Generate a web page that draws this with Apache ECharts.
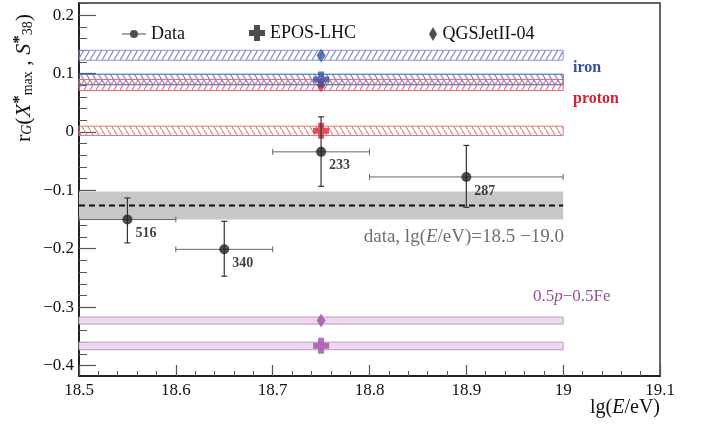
<!DOCTYPE html>
<html>
<head>
<meta charset="utf-8">
<script src="https://cdn.jsdelivr.net/npm/echarts@6/dist/echarts.min.js"></script>
<style>html,body{margin:0;padding:0;background:#fff}#c{width:702px;height:426px}</style>
</head>
<body>
<div id="c"></div>
<script>
// ---- data ----
const dataX = [18.55, 18.65, 18.75, 18.9];
const dataY = [-0.150, -0.201, -0.034, -0.077];
const dataXLow = [18.5, 18.6, 18.7, 18.8];
const dataXHigh = [18.6, 18.7, 18.8, 19.0];
const dataYLow = [-0.190, -0.247, -0.093, -0.129];
const dataYHigh = [-0.113, -0.153, 0.026, -0.023];
const dataCounts = ['516', '340', '233', '287'];

const compositions = ['iron', 'proton', 'mixed'];
const modelX = 18.75;
const eposValues = [0.090, 0.002, -0.366];
const eposLow = [0.081, -0.006, -0.373];
const eposHigh = [0.099, 0.010, -0.360];
const qgsValues = [0.131, 0.080, -0.323];
const qgsLow = [0.123, 0.071, -0.329];
const qgsHigh = [0.140, 0.090, -0.317];
const bandStart = 18.5, bandEnd = 19.0;

const dataMean = -0.126, dataMeanLow = -0.150, dataMeanHigh = -0.102;

const xTicks = [18.5, 18.6, 18.7, 18.8, 18.9, 19.0, 19.1];
const yMajorTicks = [-0.4, -0.3, -0.2, -0.1, 0, 0.1, 0.2];

// ---- styles ----
const compColor = { iron: '#3a52a3', proton: '#d9283a', mixed: '#a24fa8' };
function hatch(color, dir) {
  const w = 6, h = 10;
  const c = document.createElement('canvas');
  c.width = w; c.height = h;
  const g = c.getContext('2d');
  g.strokeStyle = color; g.lineWidth = 1.1;
  g.beginPath();
  if (dir > 0) { g.moveTo(0, h); g.lineTo(w, 0); }
  else { g.moveTo(0, 0); g.lineTo(w, h); }
  g.stroke();
  return { image: c, repeat: 'repeat' };
}
const bandStyle = {
  'iron-qgs': { fill: hatch('#6f82c8', 1), stroke: '#8496d4' },
  'iron-epos': { fill: hatch('#6f82c8', -1), stroke: '#3f58aa' },
  'proton-qgs': { fill: hatch('#dc6a72', 1), stroke: '#dc6a72' },
  'proton-epos': { fill: hatch('#e07a7c', -1), stroke: '#e07a7c' },
  'mixed-qgs': { fill: '#ecd9ec', stroke: '#c496c4' },
  'mixed-epos': { fill: '#ecd9ec', stroke: '#c496c4' }
};
const crossPath = 'path://M5,0H11V5H16V11H11V16H5V11H0V5H5Z';
const diamondPath = 'path://M4,0L8,7L4,14L0,7Z';
const dataIcon = 'path://M0,6.4H24V7.6H0Z M12,3A4,4,0,1,1,11.99,3Z';
const serif = "'Liberation Serif','DejaVu Serif',serif";

// ---- series ----
function bandRender(params, api) {
  const p1 = api.coord([api.value(0), api.value(3)]);
  const p2 = api.coord([api.value(1), api.value(2)]);
  const st = bandStyle[params.seriesName];
  return {
    type: 'rect',
    shape: { x: p1[0], y: p1[1], width: p2[0] - p1[0], height: p2[1] - p1[1] },
    style: { fill: st.fill, stroke: st.stroke, lineWidth: 1 }
  };
}
const series = [];
series.push({
  type: 'custom', name: 'databand', silent: true, z: 1,
  renderItem: function (params, api) {
    const p1 = api.coord([api.value(0), api.value(3)]);
    const p2 = api.coord([api.value(1), api.value(2)]);
    return { type: 'rect', shape: { x: p1[0], y: p1[1], width: p2[0] - p1[0], height: p2[1] - p1[1] }, style: { fill: '#c7c7c7' } };
  },
  data: [[bandStart, bandEnd, dataMeanLow, dataMeanHigh]]
});
series.push({
  type: 'line', name: 'datamean', silent: true, z: 2, symbol: 'none',
  lineStyle: { color: '#111', width: 2, type: [6, 4] },
  data: [[bandStart, dataMean], [bandEnd, dataMean]]
});
compositions.forEach(function (comp, i) {
  series.push({ type: 'custom', name: comp + '-qgs', silent: true, z: 2, renderItem: bandRender,
    data: [[bandStart, bandEnd, qgsLow[i], qgsHigh[i]]] });
  series.push({ type: 'custom', name: comp + '-epos', silent: true, z: 2, renderItem: bandRender,
    data: [[bandStart, bandEnd, eposLow[i], eposHigh[i]]] });
});
series.push({
  type: 'scatter', name: 'QGSJetII-04', z: 5, symbol: diamondPath, symbolSize: [9, 14],
  data: compositions.map(function (c, i) { return { value: [modelX, qgsValues[i]], itemStyle: { color: compColor[c] } }; })
});
series.push({
  type: 'scatter', name: 'EPOS-LHC', z: 6, symbol: crossPath, symbolSize: 16,
  data: compositions.map(function (c, i) { return { value: [modelX, eposValues[i]], itemStyle: { color: compColor[c] } }; })
});
series.push({
  type: 'custom', name: 'errors', silent: true, z: 7,
  renderItem: function (params, api) {
    const c = api.coord([api.value(0), api.value(1)]);
    const xl = api.coord([api.value(2), api.value(1)])[0];
    const xh = api.coord([api.value(3), api.value(1)])[0];
    const yl = api.coord([api.value(0), api.value(4)])[1];
    const yh = api.coord([api.value(0), api.value(5)])[1];
    const cap = 3;
    const hs = { stroke: '#666', lineWidth: 1 };
    const vs = { stroke: '#333', lineWidth: 1.2 };
    return { type: 'group', children: [
      { type: 'line', shape: { x1: xl, y1: c[1], x2: xh, y2: c[1] }, style: hs },
      { type: 'line', shape: { x1: xl, y1: c[1] - cap, x2: xl, y2: c[1] + cap }, style: hs },
      { type: 'line', shape: { x1: xh, y1: c[1] - cap, x2: xh, y2: c[1] + cap }, style: hs },
      { type: 'line', shape: { x1: c[0], y1: yl, x2: c[0], y2: yh }, style: vs },
      { type: 'line', shape: { x1: c[0] - cap, y1: yl, x2: c[0] + cap, y2: yl }, style: vs },
      { type: 'line', shape: { x1: c[0] - cap, y1: yh, x2: c[0] + cap, y2: yh }, style: vs }
    ] };
  },
  data: dataX.map(function (x, i) { return [x, dataY[i], dataXLow[i], dataXHigh[i], dataYLow[i], dataYHigh[i]]; })
});
series.push({
  type: 'scatter', name: 'Data', z: 8, symbol: 'circle', symbolSize: 10,
  itemStyle: { color: '#222' },
  label: { show: true, position: [13, 12], fontFamily: serif, fontWeight: 'bold', fontSize: 14, color: '#111',
    formatter: function (p) { return dataCounts[p.dataIndex]; } },
  data: dataX.map(function (x, i) { return [x, dataY[i]]; })
});

function fmtY(v) {
  const r = Math.round(v * 10) / 10;
  if (r === 0) return '0';
  return (r < 0 ? '\u2212' : '') + Math.abs(r).toFixed(1);
}
const yMinorTicks = [];
for (let k = -20; k <= 11; k++) { const v = Math.round(k * 2) / 100; if (yMajorTicks.indexOf(v) < 0) yMinorTicks.push(v); }

const legendText = { fontFamily: serif, fontSize: 18, color: '#111' };
const option = {
  animation: false,
  backgroundColor: '#fff',
  grid: { left: 79, right: 42, top: 3, bottom: 50, show: true, borderColor: '#333', borderWidth: 1.5 },
  legend: [
    { left: 117, top: 20, itemWidth: 24, itemHeight: 14, itemGap: 4, textStyle: legendText,
      data: [{ name: 'Data', icon: dataIcon, itemStyle: { color: '#222' } }] },
    { left: 244, top: 19, itemWidth: 16, itemHeight: 16, textStyle: legendText,
      data: [{ name: 'EPOS-LHC', icon: crossPath, itemStyle: { color: '#222' } }] },
    { left: 424, top: 20, itemWidth: 9, itemHeight: 14, textStyle: legendText,
      data: [{ name: 'QGSJetII-04', icon: diamondPath, itemStyle: { color: '#222' } }] }
  ],
  xAxis: {
    type: 'value', min: 18.5, max: 19.1, interval: 0.1,
    axisLine: { show: true, onZero: false, lineStyle: { color: '#222', width: 2 } },
    axisTick: { inside: true, length: 11, lineStyle: { color: '#555', width: 1.2 } },
    minorTick: { show: true, splitNumber: 5, length: 5, lineStyle: { color: '#555', width: 1 } },
    splitLine: { show: false },
    axisLabel: { margin: 6, fontFamily: serif, fontSize: 17, color: '#111',
      formatter: function (v) { return String(+v.toFixed(1)); } }
  },
  yAxis: [
    {
      type: 'value', min: -0.418, max: 0.221,
      axisLine: { show: true, onZero: false, lineStyle: { color: '#222', width: 2 } },
      axisTick: { inside: true, length: 17, customValues: yMajorTicks, lineStyle: { color: '#555', width: 1.2 } },
      splitLine: { show: false },
      axisLabel: { margin: 5, fontFamily: serif, fontSize: 17, color: '#111', customValues: yMajorTicks, formatter: fmtY }
    },
    {
      type: 'value', min: -0.418, max: 0.221, position: 'left',
      axisLine: { show: false },
      axisTick: { show: true, inside: true, length: 8, customValues: yMinorTicks, lineStyle: { color: '#555', width: 1 } },
      axisLabel: { show: false },
      splitLine: { show: false }
    }
  ],
  series: series,
  graphic: [
    { type: 'text', x: 573, y: 68, style: { text: 'iron', fontFamily: serif, fontSize: 16, fontWeight: 'bold', fill: '#3a4f9a', textVerticalAlign: 'middle' } },
    { type: 'text', x: 573, y: 99, style: { text: 'proton', fontFamily: serif, fontSize: 16, fontWeight: 'bold', fill: '#cf2436', textVerticalAlign: 'middle' } },
    { type: 'text', x: 533, y: 297, style: { text: '{a|0.5}{i|p}{a|\u22120.5Fe}', fontFamily: serif, fontSize: 17, fill: '#94509a', textVerticalAlign: 'middle',
      rich: { a: { fontFamily: serif, fontSize: 17, fill: '#94509a' }, i: { fontFamily: serif, fontSize: 17, fontStyle: 'italic', fill: '#94509a' } } } },
    { type: 'text', x: 564, y: 237, style: { text: '{a|data, lg(}{i|E}{a|/eV)=18.5 \u221219.0}', textAlign: 'right', textVerticalAlign: 'middle',
      rich: { a: { fontFamily: serif, fontSize: 19, fill: '#6e6e6e' }, i: { fontFamily: serif, fontSize: 19, fontStyle: 'italic', fill: '#6e6e6e' } } } },
    { type: 'text', x: 660, y: 408, style: { text: '{a|lg(}{i|E}{a|/eV)}', textAlign: 'right', textVerticalAlign: 'middle',
      rich: { a: { fontFamily: serif, fontSize: 20, fill: '#111' }, i: { fontFamily: serif, fontSize: 20, fontStyle: 'italic', fill: '#111' } } } },
    { type: 'text', x: 24, y: 78, rotation: Math.PI / 2, style: {
      text: '{n|r}{sub|G}{n|(}{i|X}{sup|*}{sub2|max}{n| , }{i|S}{sup|*}{sub2|38}{n|)}', textAlign: 'center', textVerticalAlign: 'middle',
      rich: {
        n: { fontFamily: serif, fontSize: 22, fill: '#111' },
        i: { fontFamily: serif, fontSize: 22, fontStyle: 'italic', fill: '#111' },
        sub: { fontFamily: serif, fontSize: 14, fontStyle: 'italic', fill: '#111', padding: [7, 0, 0, 0] },
        sub2: { fontFamily: serif, fontSize: 14, fill: '#111', padding: [9, 0, 0, 0] },
        sup: { fontFamily: serif, fontSize: 17, fontWeight: 'bold', fill: '#111', padding: [0, 0, 9, 0] }
      } } }
  ]
};
const chart = echarts.init(document.getElementById('c'), null, { renderer: 'canvas' });
chart.setOption(option);
</script>
</body>
</html>
